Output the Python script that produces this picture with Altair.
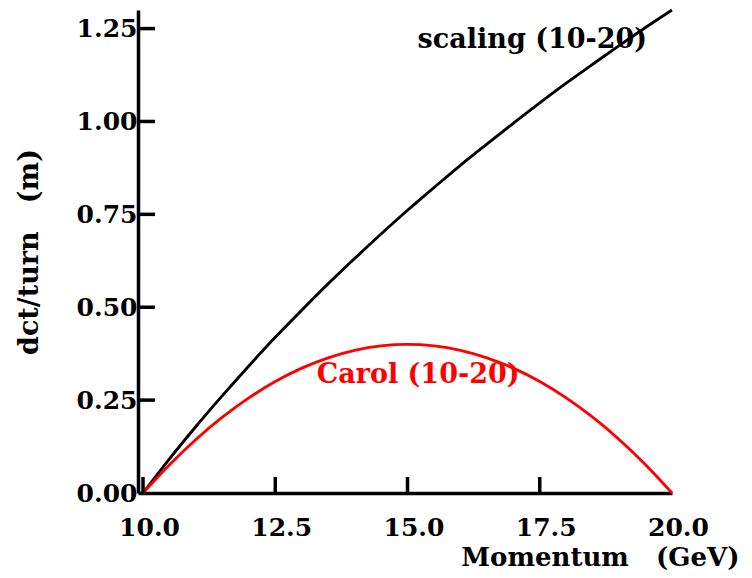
import altair as alt
import pandas as pd

# Data
momentum = [10.0, 10.5, 11.0, 11.5, 12.0, 12.5, 13.0, 13.5, 14.0, 14.5, 15.0,
            15.5, 16.0, 16.5, 17.0, 17.5, 18.0, 18.5, 19.0, 19.5, 20.0]
scaling = [0.000, 0.092, 0.179, 0.262, 0.342, 0.419, 0.492, 0.563, 0.631, 0.697, 0.761,
           0.822, 0.882, 0.939, 0.995, 1.050, 1.103, 1.154, 1.204, 1.253, 1.300]
carol = [0.000, 0.076, 0.144, 0.204, 0.256, 0.300, 0.336, 0.364, 0.384, 0.396, 0.400,
         0.396, 0.384, 0.364, 0.336, 0.300, 0.256, 0.204, 0.144, 0.076, 0.000]
series_names = ["scaling", "Carol"]
series_colors = ["black", "red"]

x_ticks = [10.0, 12.5, 15.0, 17.5]
x_labels_vals = [10.0, 12.5, 15.0, 17.5, 20.0]
y_ticks = [0.25, 0.50, 0.75, 1.00, 1.25]
y_labels_vals = [0.00, 0.25, 0.50, 0.75, 1.00, 1.25]

label_text = ["scaling (10-20)", "Carol (10-20)"]
label_x = [17.36, 15.2]
label_y = [1.219, 0.318]
label_series = ["scaling", "Carol"]

W, H = 534, 483
FONT = "DejaVu Serif"
FS = 25

n = len(momentum)
df = pd.DataFrame({
    "p": momentum + momentum,
    "v": scaling + carol,
    "s": [series_names[0]] * n + [series_names[1]] * n,
})
df_xt = pd.DataFrame({"t": x_ticks})
df_yt = pd.DataFrame({"t": y_ticks})
df_lab = pd.DataFrame({"x": label_x, "y": label_y, "text": label_text, "s": label_series})

xscale = alt.Scale(domain=[9.905, 20], nice=False, zero=False)
yscale = alt.Scale(domain=[0, 1.3], nice=False)
cscale = alt.Scale(domain=series_names, range=series_colors)

x_axis = alt.Axis(
    values=x_labels_vals, format=".1f", ticks=False, tickSize=0, grid=False,
    domainColor="black", domainWidth=3.5,
    labelFont=FONT, labelFontSize=FS, labelFontWeight="bold", labelColor="black",
    labelPadding=22, labelOffset=6, labelFlush=False, labelOverlap=False,
    title="Momentum\u00a0\u00a0\u00a0(GeV)", titleFont=FONT, titleFontSize=26,
    titleFontWeight="bold", titleColor="black",
    titleX=601, titleY=64, titleAlign="right", titleBaseline="middle",
)
y_axis = alt.Axis(
    values=y_labels_vals, format=".2f", ticks=False, tickSize=0, grid=False,
    domainColor="black", domainWidth=3.5,
    labelFont=FONT, labelFontSize=FS, labelFontWeight="bold", labelColor="black",
    labelPadding=1, labelFlush=False, labelOverlap=False,
    title="dct/turn\u00a0\u00a0\u00a0(m)", titleFont=FONT, titleFontSize=27,
    titleFontWeight="bold", titleColor="black",
    titleX=-109, titleY=241.5, titleAlign="center", titleBaseline="middle", titleAngle=270,
)

lines = alt.Chart(df).mark_line(strokeWidth=2.9, interpolate="monotone").encode(
    x=alt.X("p:Q", scale=xscale, axis=x_axis),
    y=alt.Y("v:Q", scale=yscale, axis=y_axis),
    color=alt.Color("s:N", scale=cscale, legend=None),
)

xticks = alt.Chart(df_xt).mark_rule(strokeWidth=3.5, color="black").encode(
    x=alt.X("t:Q", scale=xscale),
    y=alt.value(H),
    y2=alt.value(H - 16),
)

yticks = alt.Chart(df_yt).mark_rule(strokeWidth=3.5, color="black").encode(
    y=alt.Y("t:Q", scale=yscale),
    x=alt.value(0),
    x2=alt.value(17),
)

labels = alt.Chart(df_lab).mark_text(
    font=FONT, fontSize=27, fontWeight="bold", align="center", baseline="middle"
).encode(
    x=alt.X("x:Q", scale=xscale),
    y=alt.Y("y:Q", scale=yscale),
    text="text:N",
    color=alt.Color("s:N", scale=cscale, legend=None),
)

chart = alt.layer(lines, xticks, yticks, labels).properties(
    width=W, height=H,
    autosize=alt.AutoSizeParams(type="none"),
    padding={"left": 130, "top": 2, "right": 72, "bottom": 77},
    background="white",
).configure_view(stroke=None)

chart.save("out.html", embed_options={"renderer": "svg", "actions": False})
